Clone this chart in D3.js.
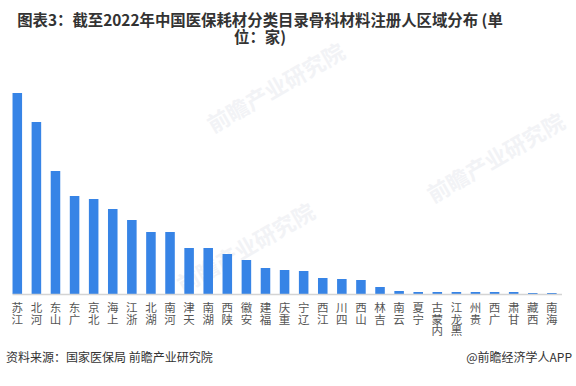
<!DOCTYPE html>
<html>
<head>
<meta charset="utf-8">
<script src="https://cdn.jsdelivr.net/npm/d3@7"></script>
<style>
  body { margin: 0; background: #fff; }
  svg { display: block; }
</style>
</head>
<body>
<div id="chart"></div>
<script>
// provinces and number of registrants (单位：家)
const provinces = ['江苏', '河北', '山东', '广东', '北京', '上海', '浙江', '湖北', '河南', '天津',
  '湖南', '陕西', '安徽', '福建', '重庆', '辽宁', '江西', '四川', '山西', '吉林',
  '云南', '宁夏', '内蒙古', '黑龙江', '贵州', '广西', '甘肃', '西藏', '海南'];
const counts = [201, 172, 123, 98, 95, 85, 74, 62, 62, 46,
  46, 40, 34, 26, 24, 23, 16, 15, 14, 7,
  3, 2, 2, 2, 2, 2, 2, 1, 1];

const titleLines = ['图表3：截至2022年中国医保耗材分类目录骨科材料注册人区域分布 (单', '位：家)'];
const sourceText = '资料来源：国家医保局 前瞻产业研究院';
const brandText = '@前瞻经济学人APP';

const width = 576, height = 386;
const cjk = '"Microsoft YaHei", "Noto Sans CJK SC", sans-serif';

const svg = d3.select('#chart').append('svg')
  .attr('width', width)
  .attr('height', height);

// faint watermarks
const marks = [[280, 95], [500, 165], [250, 255]];
marks.forEach(([mx, my]) => {
  svg.append('text')
    .attr('transform', `translate(${mx},${my}) rotate(-30)`)
    .attr('text-anchor', 'middle')
    .attr('font-family', cjk)
    .attr('font-weight', 'bold')
    .attr('font-size', 22)
    .attr('fill', '#f2f3f6')
    .text('前瞻产业研究院');
});

// title (wrapped in two lines)
const title = svg.append('text')
  .attr('text-anchor', 'middle')
  .attr('font-family', cjk)
  .attr('font-weight', 'bold')
  .attr('font-size', 15.4)
  .attr('fill', '#333');

title.selectAll('tspan')
  .data(titleLines)
  .enter().append('tspan')
  .attr('x', 260)
  .attr('y', (d, i) => 26 + i * 17)
  .text(d => d);

const baseY = 294;

const x = d3.scaleBand()
  .domain(provinces)
  .range([7.75, 561.4])
  .paddingInner(0.5)
  .paddingOuter(0.25);

const y = d3.scaleLinear()
  .domain([0, 201])
  .range([baseY, baseY - 201]);

// bars
svg.append('g').selectAll('rect')
  .data(provinces)
  .enter().append('rect')
  .attr('x', d => x(d))
  .attr('y', (d, i) => y(counts[i]))
  .attr('width', x.bandwidth())
  .attr('height', (d, i) => baseY - y(counts[i]))
  .attr('fill', '#3784e6');

// baseline
svg.append('line')
  .attr('x1', x(provinces[0]))
  .attr('x2', 562)
  .attr('y1', baseY + 0.5)
  .attr('y2', baseY + 0.5)
  .attr('stroke', '#d4d4d4')
  .attr('stroke-width', 1.5);

// category labels: upright characters, read bottom to top
svg.append('g').selectAll('text')
  .data(provinces)
  .enter().append('text')
  .attr('x', d => x(d) + x.bandwidth() / 2)
  .attr('y', 302)
  .style('writing-mode', 'vertical-rl')
  .attr('font-family', cjk)
  .attr('font-size', 11.5)
  .attr('fill', '#555')
  .text(d => d.split('').reverse().join(''));

// footer
svg.append('text')
  .attr('x', 6)
  .attr('y', 362)
  .attr('font-family', cjk)
  .attr('font-size', 12)
  .attr('fill', '#333')
  .text(sourceText);

svg.append('text')
  .attr('x', 572)
  .attr('y', 362)
  .attr('text-anchor', 'end')
  .attr('font-family', cjk)
  .attr('font-size', 12)
  .attr('fill', '#333')
  .text(brandText);
</script>
</body>
</html>
